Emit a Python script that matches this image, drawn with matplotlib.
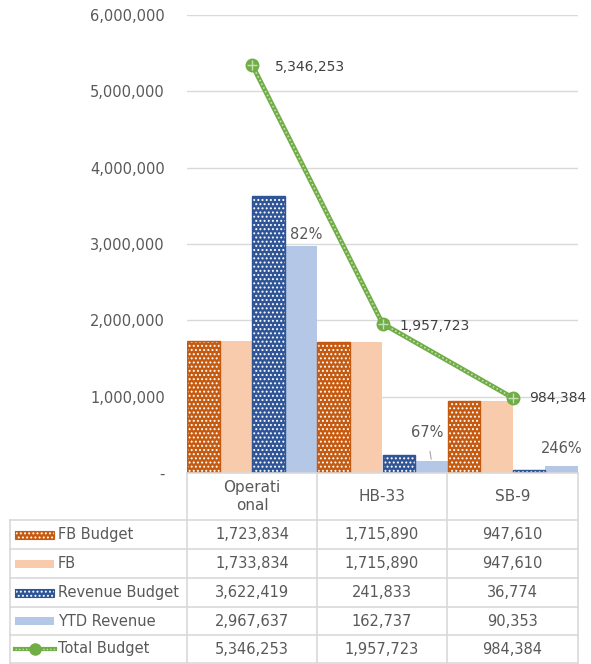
import matplotlib
matplotlib.use('Agg')
import matplotlib.pyplot as plt
from matplotlib.patches import Rectangle
from matplotlib.lines import Line2D

categories = ['Operati\nonal', 'HB-33', 'SB-9']
fb_budget = [1723834, 1715890, 947610]
fb = [1733834, 1715890, 947610]
revenue_budget = [3622419, 241833, 36774]
ytd_revenue = [2967637, 162737, 90353]
total_budget = [5346253, 1957723, 984384]
pct_labels = ['82%', '67%', '246%']
series_names = ['FB Budget', 'FB', 'Revenue Budget', 'YTD Revenue', 'Total Budget']
yticks = [0, 1000000, 2000000, 3000000, 4000000, 5000000, 6000000]

TXT = '#595959'
GRID = '#D9D9D9'
ORANGE = '#C55A11'
PEACH = '#F8CBAD'
BLUE = '#2F5597'
LBLUE = '#B4C7E7'
GREEN = '#70AD47'

plt.rcParams['font.family'] = ['DejaVu Sans']
plt.rcParams['font.size'] = 10.5
plt.rcParams['hatch.linewidth'] = 0.9

W, H = 591, 664
fig = plt.figure(figsize=(W / 100, H / 100), dpi=100)

def fx(px):
    return px / W

def fy(py):
    return 1 - py / H

x0, x1, y_top, y_bot = 187, 578, 15, 473
ax = fig.add_axes([fx(x0), fy(y_bot), fx(x1 - x0), (y_bot - y_top) / H])
ax.set_xlim(-0.5, 2.5)
ax.set_ylim(0, 6000000)
for s in ax.spines.values():
    s.set_visible(False)
ax.set_xticks([])
ax.set_yticks(yticks)
ax.set_yticklabels(['-' if v == 0 else f'{v:,}' for v in yticks], color=TXT)
ax.tick_params(axis='y', length=0, pad=16)
for v in yticks[1:]:
    ax.axhline(v, color=GRID, lw=1, zorder=0)

w = 0.25
xs = list(range(len(categories)))
offs = [-1.5 * w, -0.5 * w, 0.5 * w, 1.5 * w]

def hatched(vals, off, color):
    pos = [x + off for x in xs]
    ax.bar(pos, vals, w, color=color, edgecolor='white', hatch='....', lw=0, zorder=2)
    ax.bar(pos, vals, w, fill=False, edgecolor=color, lw=1, zorder=3)

hatched(fb_budget, offs[0], ORANGE)
ax.bar([x + offs[1] for x in xs], fb, w, color=PEACH, zorder=2)
hatched(revenue_budget, offs[2], BLUE)
ax.bar([x + offs[3] for x in xs], ytd_revenue, w, color=LBLUE, zorder=2)

ax.plot(xs, total_budget, color=GREEN, lw=3.5, zorder=4, solid_capstyle='butt')
ax.plot(xs, total_budget, color='#C5E0B4', lw=1.2, ls=(0, (1, 1.5)), zorder=5)
ax.plot(xs, total_budget, ls='none', marker='o', ms=9, mfc=GREEN, mec=GREEN, zorder=6)
ax.plot(xs, total_budget, ls='none', marker='+', ms=7, mec='#C5E0B4', mew=1, zorder=7)

ax.annotate(f'{total_budget[0]:,}', (0, total_budget[0]), xytext=(16.5, -1.5), textcoords='offset points',
            ha='left', va='center', color='#404040', fontsize=10)
ax.annotate(f'{total_budget[1]:,}', (1, total_budget[1]), xytext=(12, -1.5), textcoords='offset points',
            ha='left', va='center', color='#404040', fontsize=10)
ax.annotate(f'{total_budget[2]:,}', (2, total_budget[2]), xytext=(11.5, 0), textcoords='offset points',
            ha='left', va='center', color='#404040', fontsize=10)

ax.annotate(pct_labels[0], (0 + offs[3], ytd_revenue[0]), xytext=(4, 8.5), textcoords='offset points',
            ha='center', va='center', color=TXT)
ax.annotate(pct_labels[1], (1 + offs[3], ytd_revenue[1]), xytext=(-3, 20), textcoords='offset points',
            ha='center', va='center', color=TXT,
            arrowprops=dict(arrowstyle='-', color='#A6A6A6', lw=0.8, shrinkA=6, shrinkB=1))
ax.annotate(pct_labels[2], (2 + offs[3], ytd_revenue[2]), xytext=(0, 13), textcoords='offset points',
            ha='center', va='center', color=TXT)

# data table under the chart
col_x = [187, 317, 447, 578]
left_x = 10
head_bot = 520
row_y = [520, 549, 578, 607, 635, 663]

def hline(y, xa, xb):
    fig.add_artist(Line2D([fx(xa), fx(xb)], [fy(y), fy(y)], color=GRID, lw=1.2))

def vline(x, ya, yb):
    fig.add_artist(Line2D([fx(x), fx(x)], [fy(ya), fy(yb)], color=GRID, lw=1.2))

hline(y_bot, col_x[0], col_x[-1])
for y in row_y:
    hline(y, left_x, col_x[-1])
for x in col_x:
    vline(x, y_bot, row_y[-1])
vline(left_x, row_y[0], row_y[-1])

for i, c in enumerate(categories):
    fig.text(fx((col_x[i] + col_x[i + 1]) / 2), fy((y_bot + head_bot) / 2), c,
             ha='center', va='center', color=TXT, linespacing=1.3, fontsize=11)

rows = [fb_budget, fb, revenue_budget, ytd_revenue, total_budget]
for r, vals in enumerate(rows):
    yc = (row_y[r] + row_y[r + 1]) / 2
    fig.text(fx(58), fy(yc), series_names[r], ha='left', va='center', color=TXT)
    for i, v in enumerate(vals):
        fig.text(fx((col_x[i] + col_x[i + 1]) / 2), fy(yc), f'{v:,}', ha='center', va='center', color=TXT)

# legend keys
def key_patch(yc, color, hatch):
    if hatch:
        fig.add_artist(Rectangle((fx(15), fy(yc + 4)), fx(39), 8 / H, facecolor=color,
                                 edgecolor='white', hatch='....', lw=0))
        fig.add_artist(Rectangle((fx(15), fy(yc + 4)), fx(39), 8 / H, fill=False,
                                 edgecolor=color, lw=0.8))
    else:
        fig.add_artist(Rectangle((fx(15), fy(yc + 4)), fx(39), 8 / H, facecolor=color, lw=0))

ycs = [(row_y[r] + row_y[r + 1]) / 2 for r in range(5)]
key_patch(ycs[0], ORANGE, True)
key_patch(ycs[1], PEACH, False)
key_patch(ycs[2], BLUE, True)
key_patch(ycs[3], LBLUE, False)
fig.add_artist(Line2D([fx(15), fx(55)], [fy(ycs[4]), fy(ycs[4])], color=GREEN, lw=3))
fig.add_artist(Line2D([fx(15), fx(55)], [fy(ycs[4]), fy(ycs[4])], color='#C5E0B4', lw=1, ls=(0, (1, 1.5))))
fig.add_artist(Line2D([fx(35)], [fy(ycs[4])], marker='o', ms=8, mfc=GREEN, mec=GREEN))

fig.savefig('out.png', dpi=100)
